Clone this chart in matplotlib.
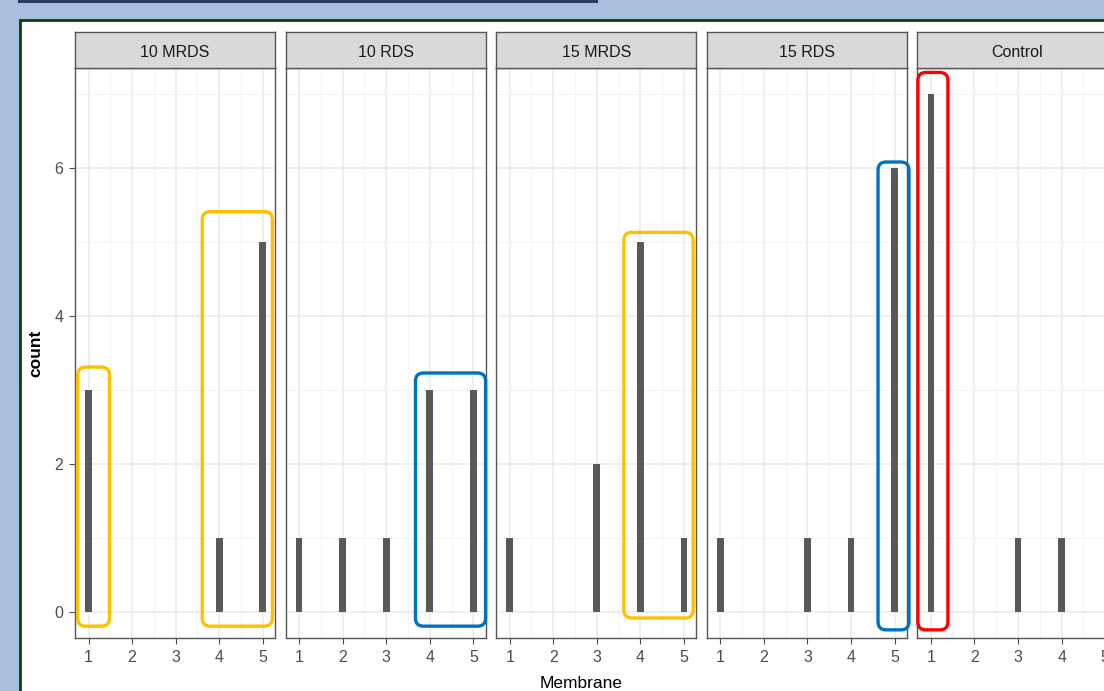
import matplotlib
matplotlib.use("Agg")
import matplotlib.pyplot as plt
from matplotlib.patches import Rectangle, FancyBboxPatch
from matplotlib.transforms import IdentityTransform

plt.rcParams['font.family'] = ['Liberation Sans', 'DejaVu Sans']

# ---- data ----
panels = ["10 MRDS", "10 RDS", "15 MRDS", "15 RDS", "Control"]
membrane_10MRDS = [1, 4, 5]
count_10MRDS = [3, 1, 5]
membrane_10RDS = [1, 2, 3, 4, 5]
count_10RDS = [1, 1, 1, 3, 3]
membrane_15MRDS = [1, 3, 4, 5]
count_15MRDS = [1, 2, 5, 1]
membrane_15RDS = [1, 3, 4, 5]
count_15RDS = [1, 1, 1, 6]
membrane_Control = [1, 3, 4]
count_Control = [7, 1, 1]
x_ticks = [1, 2, 3, 4, 5]
y_ticks = [0, 2, 4, 6]

series = [(membrane_10MRDS, count_10MRDS), (membrane_10RDS, count_10RDS),
          (membrane_15MRDS, count_15MRDS), (membrane_15RDS, count_15RDS),
          (membrane_Control, count_Control)]

# highlight boxes: (panel index, x0, x1, y0, y1, colour) in data units
highlights = [
    (0, 0.75, 1.48, -0.19, 3.31, "#FFC000"),
    (0, 3.61, 5.22, -0.19, 5.41, "#FFC000"),
    (1, 3.67, 5.28, -0.19, 3.23, "#0070C0"),
    (2, 3.62, 5.21, -0.08, 5.13, "#FFC000"),
    (3, 4.62, 5.33, -0.24, 6.08, "#0070C0"),
    (4, 0.70, 1.39, -0.24, 7.29, "#FF0000"),
]

W, H = 1104, 691
fig = plt.figure(figsize=(W / 100, H / 100), dpi=100)
fig.patch.set_facecolor("#A7BFDD")

def fx(px):
    return px / W

def fy(py):
    return 1 - py / H

# page decorations
fig.add_artist(Rectangle((fx(18), fy(3)), fx(598) - fx(18), 3 / H,
                         transform=fig.transFigure, facecolor="#243F60",
                         edgecolor="none", zorder=-5))
fig.add_artist(Rectangle((fx(20), fy(H + 10)), 1.2, (H + 10 - 20) / H,
                         transform=fig.transFigure, facecolor="white",
                         edgecolor="#0B3D0B", linewidth=2, zorder=-5))

panel_left = [75, 285.6, 496.2, 706.8, 917.4]
pw = 200
top, strip_h, bottom = 32, 36, 638

axes = []
for i, name in enumerate(panels):
    x0 = panel_left[i]
    ax = fig.add_axes([fx(x0), fy(bottom), pw / W, (bottom - top - strip_h) / H])
    ax.set_facecolor("white")
    ax.set_xlim(0.69, 5.28)
    ax.set_ylim(-0.35, 7.35)
    ax.set_xticks(x_ticks)
    ax.set_xticks([1.5, 2.5, 3.5, 4.5], minor=True)
    ax.set_yticks([1, 3, 5, 7], minor=True)
    ax.grid(which="major", color="#EBEBEB", linewidth=1.1)
    ax.grid(which="minor", color="#F2F2F2", linewidth=0.6)
    ax.set_axisbelow(True)
    xs, ys = series[i]
    ax.bar(xs, ys, width=0.155, color="#595959", zorder=3)
    for s in ax.spines.values():
        s.set_color("#555555")
        s.set_linewidth(1.0)
    ax.tick_params(which="major", length=4.5, color="#4D4D4D", labelcolor="#4D4D4D",
                   labelsize=11.5, width=0.8, pad=4)
    ax.tick_params(which="minor", length=0)
    ax.set_yticks(y_ticks)
    if i == 0:
        ax.set_ylabel("count", fontsize=12.5, fontweight="bold", color="black", labelpad=8)
    else:
        ax.tick_params(axis="y", which="major", left=False, labelleft=False)
    axes.append(ax)

    sax = fig.add_axes([fx(x0), fy(top + strip_h), pw / W, strip_h / H])
    sax.set_facecolor("#D9D9D9")
    sax.set_xticks([])
    sax.set_yticks([])
    for s in sax.spines.values():
        s.set_color("#555555")
        s.set_linewidth(1.0)
    sax.text(0.5, 0.42, name, ha="center", va="center", fontsize=11.5,
             color="#1A1A1A", transform=sax.transAxes)

fig.text(fx(581), fy(683), "Membrane", ha="center", va="center", fontsize=12.5,
         color="black")

fig.canvas.draw()
for (pi, x0, x1, y0, y1, col) in highlights:
    ax = axes[pi]
    (dx0, dy0) = ax.transData.transform((x0, y0))
    (dx1, dy1) = ax.transData.transform((x1, y1))
    box = FancyBboxPatch((dx0, dy0), dx1 - dx0, dy1 - dy0,
                         boxstyle="round,pad=0,rounding_size=8",
                         transform=IdentityTransform(), facecolor="none",
                         edgecolor=col, linewidth=2.4, zorder=10)
    fig.add_artist(box)

fig.savefig("out.png", dpi=100, facecolor=fig.get_facecolor())
